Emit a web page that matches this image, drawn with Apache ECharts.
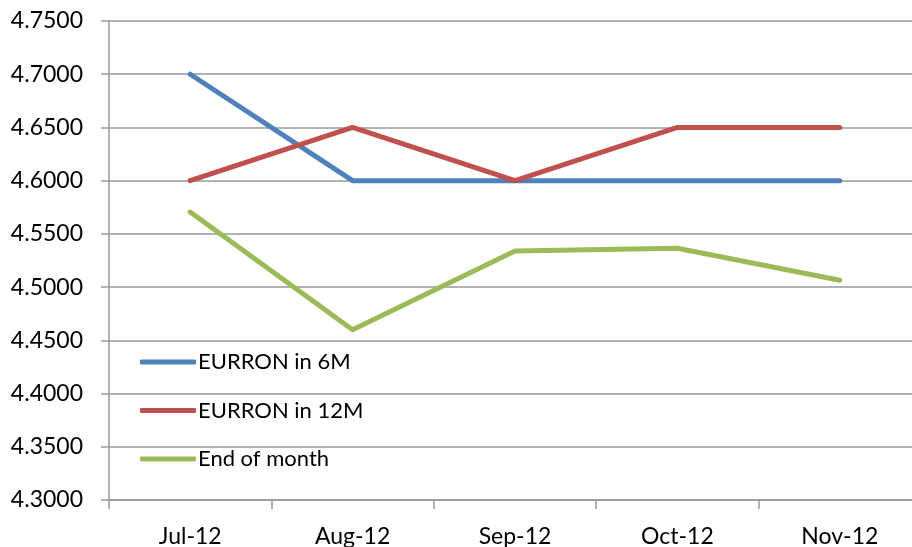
<!DOCTYPE html>
<html><head><meta charset="utf-8">
<script src="https://cdn.jsdelivr.net/npm/echarts@6/dist/echarts.min.js"></script>
<style>html,body{margin:0;padding:0;background:#fff}#c{width:912px;height:547px}</style>
</head><body><div id="c"></div>
<script>
var categories = ['Jul-12','Aug-12','Sep-12','Oct-12','Nov-12'];
var eurron6M = [4.70, 4.60, 4.60, 4.60, 4.60];
var eurron12M = [4.60, 4.65, 4.60, 4.65, 4.65];
var endOfMonth = [4.5705, 4.4600, 4.5340, 4.5365, 4.5065];
var seriesNames = ['EURRON in 6M','EURRON in 12M','End of month'];
var colors = ['#4F81BD','#C0504D','#9BBB59'];
var font = 'Lato, "Open Sans", sans-serif';
function mk(name, data, color){
  return {name:name, type:'line', data:data, symbol:'none', animation:false,
    lineStyle:{color:color, width:5, cap:'round', join:'round'}, itemStyle:{color:color}};
}
var chart = echarts.init(document.getElementById('c'));
chart.setOption({
  animation:false,
  grid:{left:109, width:812, top:21, bottom:47, outerBoundsMode:'none', containLabel:false},
  legend:{orient:'vertical', left:135, top:346, icon:'roundRect', itemWidth:56, itemHeight:5,
    itemGap:26.5, data:seriesNames, textStyle:{fontFamily:font, fontSize:22, color:'#000', padding:[0,0,0,-3]}},
  xAxis:{type:'category', data:categories, boundaryGap:true,
    axisLine:{lineStyle:{color:'#999', width:1.5}},
    axisTick:{show:true, length:9, inside:false, lineStyle:{color:'#999', width:1.5}},
    axisLabel:{fontFamily:font, fontSize:23, color:'#000', margin:25}},
  yAxis:{type:'value', min:4.30, max:4.75, interval:0.05,
    axisLine:{show:true, lineStyle:{color:'#999', width:1.5}},
    axisTick:{show:true, length:8, lineStyle:{color:'#999', width:1.5}},
    splitLine:{lineStyle:{color:'#999', width:1.5}},
    axisLabel:{fontFamily:font, fontSize:23, color:'#000', margin:26, formatter:function(v){return v.toFixed(4);}}},
  series:[mk(seriesNames[0], eurron6M, colors[0]), mk(seriesNames[1], eurron12M, colors[1]), mk(seriesNames[2], endOfMonth, colors[2])]
});
</script></body></html>
